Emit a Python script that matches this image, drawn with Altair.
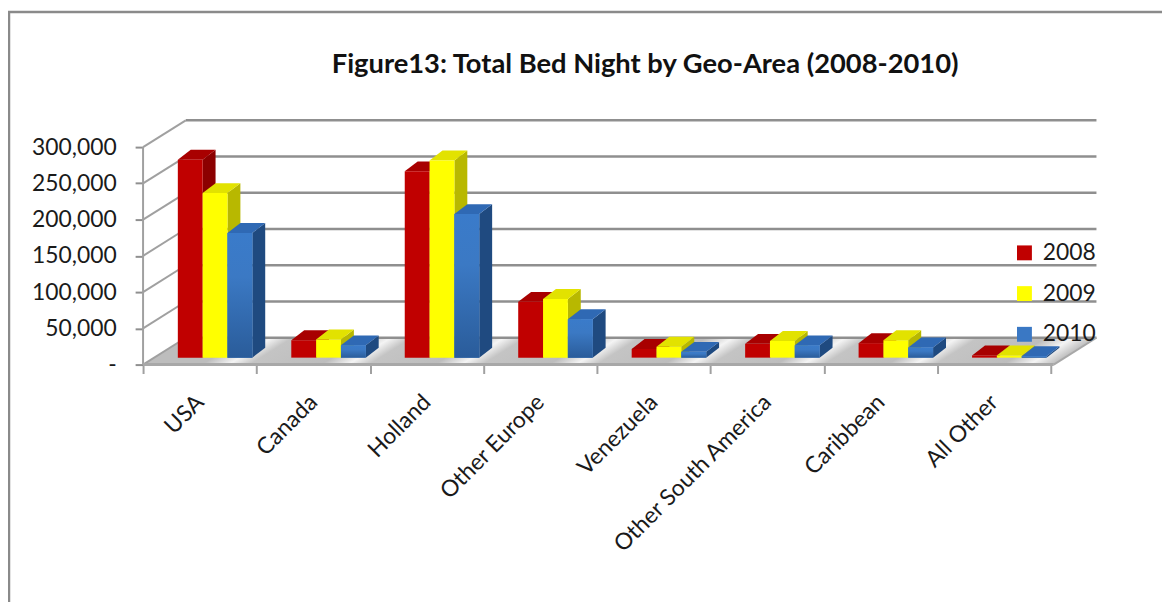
import json
import altair as alt
import pandas as pd

categories = ["USA", "Canada", "Holland", "Other Europe", "Venezuela",
              "Other South America", "Caribbean", "All Other"]
years = ["2008", "2009", "2010"]
v2008 = [273000, 24000, 257000, 77000, 12000, 19000, 20000, 3000]
v2009 = [227000, 25000, 272000, 81000, 15000, 23000, 24000, 3000]
v2010 = [172000, 17000, 198000, 53000, 8000, 17000, 14000, 2000]
series = [v2008, v2009, v2010]
y_ticks = [0, 50000, 100000, 150000, 200000, 250000, 300000]

front_colors = ["#c00000", "#ffff00", "#3a78c4"]
top_colors = ["#a80000", "#e2e200", "#2f69b4"]
side_colors = ["#8c0000", "#b8b800", "#1f4a80"]
GREY = "#8f8f8f"
FONT = "Lato"

# layout: one x unit = one category, y unit = value
CAT = 114.25            # px per category
PXV = 219 / 300000      # px per value unit
WIDTH, HEIGHT = 960, 247
X_MAX = WIDTH / CAT
Y_MAX = HEIGHT / PXV
WALL_DX, WALL_DY = 43 / CAT, 27 / PXV
BAR_X0 = 35 / CAT
BAR_W = 25 / CAT
BAR_DX, BAR_DY = 13 / CAT, 10 / PXV
BASE = 7 / PXV

xs = alt.Scale(domain=[0, X_MAX], nice=False, zero=False)
ys = alt.Scale(domain=[0, Y_MAX], nice=False, zero=False)


def X(field="x", axis=None):
    return alt.X(f"{field}:Q", scale=xs, axis=axis, title=None)


def Y(field="y", axis=None):
    return alt.Y(f"{field}:Q", scale=ys, axis=axis, title=None)


# ---- frame
frame = [
    alt.Chart(pd.DataFrame({"a": [0]})).mark_rule(color="#8a8a8a", strokeWidth=2.5).encode(
        x=alt.value(-135), y=alt.value(-108), y2=alt.value(486)),
    alt.Chart(pd.DataFrame({"a": [0]})).mark_rule(color="#8a8a8a", strokeWidth=2.5).encode(
        x=alt.value(-136), x2=alt.value(1026), y=alt.value(-108)),
]

# ---- floor
floor_df = pd.DataFrame({
    "x": [0, WALL_DX, X_MAX - WALL_DX, X_MAX],
    "y": [0, 0, 0, WALL_DY],
    "y2": [0, WALL_DY, WALL_DY, WALL_DY],
})
peaks = [273, 393, 507, 622, 737, 850, 962, 1078]
stops = [alt.GradientStop(color="#bdbdbd", offset=0)]
for p in peaks:
    t = (p - 144) / WIDTH
    stops += [
        alt.GradientStop(color="#bdbdbd", offset=round(t - 0.028, 4)),
        alt.GradientStop(color="#f4f4f4", offset=round(t, 4)),
        alt.GradientStop(color="#c4c4c4", offset=round(t + 0.022, 4)),
    ]
stops.append(alt.GradientStop(color="#bdbdbd", offset=1))
floor_grad = alt.Gradient(gradient="linear", stops=stops, x1=0, y1=0, x2=1, y2=0.045)

x_tick_axis = alt.Axis(orient="bottom", values=list(range(9)), labels=False, domain=False, grid=False,
                       tickSize=9, tickWidth=2, tickColor="#a0a0a0")
y_axis = alt.Axis(
    values=y_ticks, grid=False, domain=False, tickSize=8, tickWidth=2, tickColor=GREY,
    labelFont=FONT, labelFontSize=23, labelColor="#1a1a1a", labelPadding=19,
    labelExpr="datum.value === 0 ? '-\u00a0\u00a0\u00a0\u00a0\u00a0' : format(datum.value, ',')",
)
floor = alt.Chart(floor_df).mark_area(color=floor_grad, interpolate="linear").encode(
    x=X(axis=x_tick_axis), y=Y(axis=y_axis), y2="y2:Q")

# ---- x labels axis (carried by a rule along the front edge)
label_positions = [i + 0.5 for i in range(len(categories))]
names = json.dumps(categories)
x_label_axis = alt.Axis(
    orient="bottom", values=label_positions, ticks=False, domain=False, grid=False, labelAngle=315,
    labelAlign="right", labelBaseline="middle", labelFont=FONT, labelFontSize=23,
    labelColor="#1a1a1a", labelPadding=34, labelOverlap=False, labelBound=False, labelLimit=400,
    labelFlush=False, labelExpr=f"{names}[floor(datum.value)]",
)
front_edge = alt.Chart(pd.DataFrame({"x": [0.0], "x2": [X_MAX - WALL_DX], "y": [0]})).mark_rule(
    color="#a8a8a8", strokeWidth=3).encode(x=X(axis=x_label_axis), x2="x2:Q", y=Y())

# ---- walls
back_grid = alt.Chart(pd.DataFrame({
    "x": [WALL_DX] * len(y_ticks), "x2": [X_MAX] * len(y_ticks),
    "y": [t + WALL_DY for t in y_ticks],
})).mark_rule(color=GREY, strokeWidth=2.5).encode(x=X(), x2="x2:Q", y=Y())
side_grid = alt.Chart(pd.DataFrame({
    "x": [0.0] * len(y_ticks), "x2": [WALL_DX] * len(y_ticks),
    "y": y_ticks, "y2": [t + WALL_DY for t in y_ticks],
})).mark_rule(color="#a0a0a0", strokeWidth=2).encode(x=X(), x2="x2:Q", y=Y(), y2="y2:Q")
left_edge = alt.Chart(pd.DataFrame({"x": [0.0], "y": [0], "y2": [300000]})).mark_rule(
    color="#a0a0a0", strokeWidth=2).encode(x=X(), y=Y(), y2="y2:Q")
right_edge = alt.Chart(pd.DataFrame({
    "x": [X_MAX - WALL_DX], "x2": [X_MAX], "y": [0], "y2": [WALL_DY],
})).mark_rule(color="#a8a8a8", strokeWidth=2).encode(x=X(), x2="x2:Q", y=Y(), y2="y2:Q")

# ---- bars, painted left to right
bar_layers = []
for s, (year, vals) in enumerate(zip(years, series)):
    side_rows, top_rows, front_rows = [], [], []
    for i, v in enumerate(vals):
        left = i + BAR_X0 + s * BAR_W
        right = left + BAR_W
        top = BASE + v
        side_rows += [
            {"c": i, "x": right, "y": BASE, "y2": top},
            {"c": i, "x": right + BAR_DX, "y": BASE + BAR_DY, "y2": top + BAR_DY},
        ]
        top_rows += [
            {"c": i, "x": left, "y": top, "y2": top},
            {"c": i, "x": left + BAR_DX, "y": top, "y2": top + BAR_DY},
            {"c": i, "x": right, "y": top, "y2": top + BAR_DY},
            {"c": i, "x": right + BAR_DX, "y": top + BAR_DY, "y2": top + BAR_DY},
        ]
        front_rows.append({"x": left, "x2": right, "y": BASE, "y2": top, "year": year})
    bar_layers.append(alt.Chart(pd.DataFrame(side_rows)).mark_area(
        color=side_colors[s], interpolate="linear").encode(
        x=X(), y=Y(), y2="y2:Q", detail="c:N"))
    bar_layers.append(alt.Chart(pd.DataFrame(top_rows)).mark_area(
        color=top_colors[s], interpolate="linear").encode(
        x=X(), y=Y(), y2="y2:Q", detail="c:N"))
    bar_layers.append(alt.Chart(pd.DataFrame(front_rows)).mark_rect().encode(
        x=X(), x2="x2:Q", y=Y(), y2="y2:Q",
        color=alt.Color("year:N", scale=alt.Scale(domain=years, range=front_colors), legend=alt.Legend(
            title=None, orient="none", legendX=876, legendY=123, symbolType="square",
            symbolSize=225, symbolStrokeWidth=0, labelFont=FONT, labelFontSize=23,
            labelColor="#1a1a1a", rowPadding=17, labelOffset=7, padding=0))))
    if s == 2:
        blue = alt.Gradient(gradient="linear", x1=0, y1=0, x2=0, y2=1, stops=[
            alt.GradientStop(color="#3a7bca", offset=0),
            alt.GradientStop(color="#3b79c4", offset=0.35),
            alt.GradientStop(color="#2a5c9a", offset=1)])
        bar_layers.append(alt.Chart(pd.DataFrame(front_rows)).mark_rect(color=blue).encode(
            x=X(), x2="x2:Q", y=Y(), y2="y2:Q"))

chart = alt.layer(
    *frame, floor, back_grid, side_grid, left_edge, right_edge, front_edge, *bar_layers,
).resolve_axis(x="independent", y="independent").properties(
    width=WIDTH, height=HEIGHT,
    title=alt.TitleParams(
        "Figure13: Total Bed Night by Geo-Area (2008-2010)", anchor="start", frame="group",
        dx=190, offset=-68, font=FONT, fontSize=27.5, fontWeight="bold", color="#111111"),
    autosize=alt.AutoSizeParams(type="none"),
    padding={"left": 136, "top": 110, "right": 66, "bottom": 239},
).configure_view(stroke=None)

chart.save("out.html", embed_options={"renderer": "svg", "actions": False})
